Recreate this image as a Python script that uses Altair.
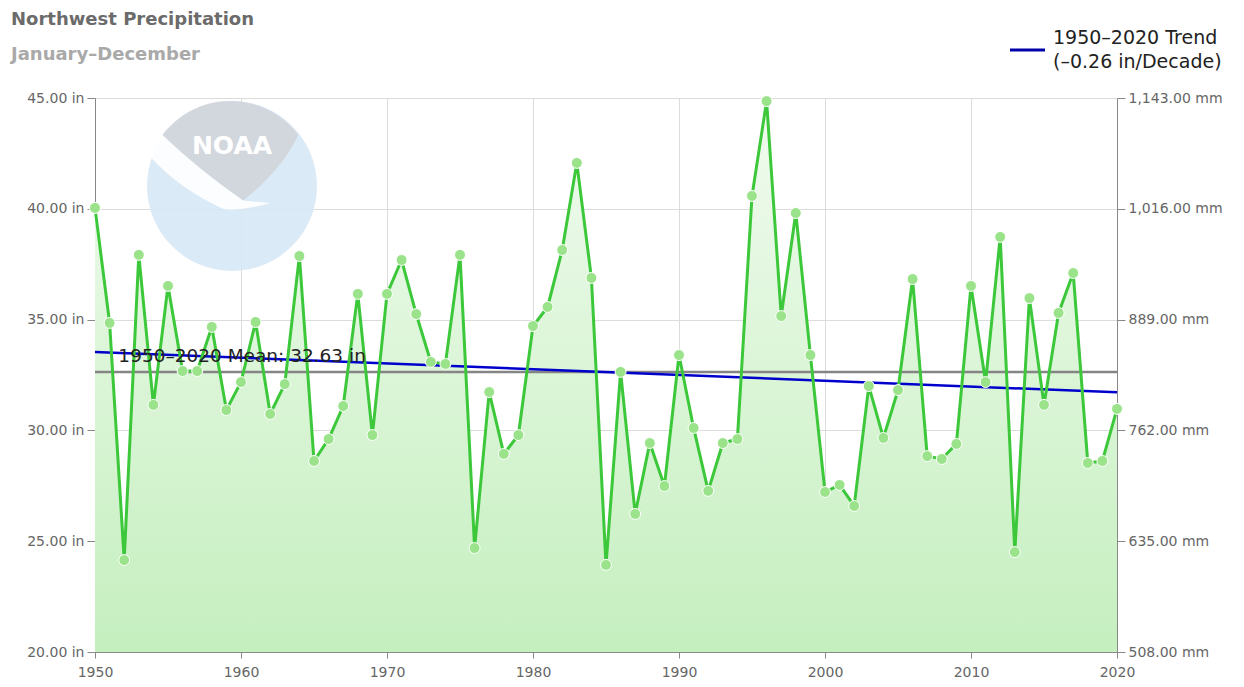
import altair as alt
import pandas as pd

years = list(range(1950, 2021))
precip = [40.04, 34.85, 24.15, 37.92, 31.15, 36.52, 32.68, 32.68, 34.67, 30.92,
          32.18, 34.89, 30.74, 32.09, 37.87, 28.62, 29.61, 31.10, 36.16, 29.79,
          36.16, 37.69, 35.25, 33.09, 33.00, 37.92, 24.69, 31.73, 28.94, 29.79,
          34.71, 35.57, 38.14, 42.07, 36.88, 23.93, 32.64, 26.23, 29.43, 27.49,
          33.40, 30.11, 27.27, 29.43, 29.61, 40.58, 44.86, 35.16, 39.81, 33.40,
          27.22, 27.54, 26.59, 32.00, 29.66, 31.82, 36.83, 28.84, 28.71, 29.39,
          36.52, 32.18, 38.73, 24.51, 35.97, 31.15, 35.30, 37.10, 28.53, 28.62,
          30.97]
mean_value = 32.63
mean_label = "1950–2020 Mean: 32.63 in"
trend_years = [1950, 2020]
trend_values = [33.54, 31.72]
legend_lines = ["1950–2020 Trend", "(–0.26 in/Decade)"]
title_text = "Northwest Precipitation"
subtitle_text = "January–December"
x_ticks = [1950, 1960, 1970, 1980, 1990, 2000, 2010, 2020]
y_ticks = [20, 25, 30, 35, 40, 45]

df = pd.DataFrame({"year": years, "precip": precip})
trend_df = pd.DataFrame({"year": trend_years, "value": trend_values})
mean_df = pd.DataFrame({"value": [mean_value], "label": [mean_label],
                        "year": [1951.6], "ly": [33.36]})
one = pd.DataFrame({"k": [0]})

W, H = 1022, 554
FONT = "DejaVu Sans"

xs = alt.Scale(domain=[1950, 2020], nice=False)
ys = alt.Scale(domain=[20, 45], nice=False, zero=False)

x_axis = alt.Axis(values=x_ticks, format="d", title=None, grid=True, gridColor="#dcdcdc",
                  tickSize=6, tickColor="#888", domainColor="#888", labelFontSize=14,
                  labelColor="#666", labelFont=FONT, labelPadding=7, labelFlush=False)
y_axis = alt.Axis(values=y_ticks, title=None, grid=True, gridColor="#dcdcdc",
                  labelExpr="format(datum.value, '.2f') + ' in'", tickSize=8,
                  tickColor="#888", domainColor="#888", labelFontSize=14,
                  labelColor="#666", labelFont=FONT, labelPadding=3, labelFlush=False)


def X(field):
    return alt.X(field, scale=xs, axis=x_axis)


def Y(field):
    return alt.Y(field, scale=ys, axis=y_axis)


# NOAA logo watermark (unit-circle paths scaled by size)
LOGO_SIZE = 170 ** 2
cap_path = ("M -0.82 -0.6 A 1 1 0 0 1 0.78 -0.6 Q 0.58 -0.18 0.13 0.17 "
            "Q -0.38 -0.18 -0.82 -0.6 Z")
swoosh_path = ("M -0.82 -0.6 Q -0.38 -0.18 0.13 0.17 L 0.45 0.2 "
               "Q 0.1 0.3 -0.1 0.27 Q -0.6 0.05 -0.96 -0.34 L -0.82 -0.6 Z")
logo_circle = alt.Chart(one).mark_point(shape="circle", filled=True, size=LOGO_SIZE,
                                        color="#d7e8f6", opacity=0.9).encode(
    x=alt.value(137), y=alt.value(88))
logo_cap = alt.Chart(one).mark_point(shape=cap_path, filled=True, size=LOGO_SIZE,
                                     color="#d2d6dc", opacity=0.95).encode(
    x=alt.value(137), y=alt.value(88))
logo_swoosh = alt.Chart(one).mark_point(shape=swoosh_path, filled=True, size=LOGO_SIZE,
                                        color="white", opacity=0.9).encode(
    x=alt.value(137), y=alt.value(88))
logo_text = alt.Chart(one).mark_text(text="NOAA", font=FONT, fontWeight="bold",
                                     fontSize=25, color="white").encode(
    x=alt.value(137), y=alt.value(48))

area = alt.Chart(df).mark_area(
    color=alt.Gradient(gradient="linear",
                       stops=[alt.GradientStop(color="#f1fbef", offset=0),
                              alt.GradientStop(color="#c5efbf", offset=1)],
                       x1=0, x2=0, y1=0, y2=1)
).encode(x=X("year:Q"), y=Y("precip:Q"), y2=alt.Y2Datum(20))

mean_rule = alt.Chart(mean_df).mark_rule(color="#858585", strokeWidth=2.5).encode(
    y=Y("value:Q"))

trend = alt.Chart(trend_df).mark_line(strokeWidth=2.5, color="#0000cc").encode(
    x=X("year:Q"), y=Y("value:Q"))

line = alt.Chart(df).mark_line(color="#3cc83a", strokeWidth=3).encode(
    x=X("year:Q"), y=Y("precip:Q"))

mean_text = alt.Chart(mean_df).mark_text(align="left", baseline="middle", fontSize=18.5,
                                         font=FONT, color="#222").encode(
    x=X("year:Q"), y=Y("ly:Q"), text="label:N")

# titles and trend key placed in the top margin
title_mark = alt.Chart(one).mark_text(text=title_text, align="left", baseline="middle",
                                      font=FONT, fontSize=18, fontWeight="bold",
                                      color="#6b6b6b").encode(
    x=alt.value(-84), y=alt.value(-78))
subtitle_mark = alt.Chart(one).mark_text(text=subtitle_text, align="left", baseline="middle",
                                         font=FONT, fontSize=18, fontWeight="bold",
                                         color="#a9a9a9").encode(
    x=alt.value(-84), y=alt.value(-43))
key_rule = alt.Chart(one).mark_rule(color="#0000aa", strokeWidth=3).encode(
    x=alt.value(915), x2=alt.value(950), y=alt.value(-48))
key_text1 = alt.Chart(one).mark_text(text=legend_lines[0], align="left", baseline="middle",
                                     font=FONT, fontSize=19, color="#222").encode(
    x=alt.value(958), y=alt.value(-60))
key_text2 = alt.Chart(one).mark_text(text=legend_lines[1], align="left", baseline="middle",
                                     font=FONT, fontSize=19, color="#222").encode(
    x=alt.value(958), y=alt.value(-36))

left = alt.layer(logo_circle, logo_cap, logo_swoosh, logo_text, area, mean_rule, trend,
                 line, mean_text, title_mark, subtitle_mark, key_rule, key_text1, key_text2)

points = alt.Chart(df).mark_point(filled=True, shape="circle", size=120, fill="#9be38b",
                                  stroke="white", strokeWidth=1, opacity=1).encode(
    x=X("year:Q"),
    y=alt.Y("precip:Q", scale=alt.Scale(domain=[20, 45], nice=False, zero=False),
            axis=alt.Axis(orient="right", values=y_ticks, title=None, grid=False,
                          labelExpr="format(datum.value * 25.4, ',.2f') + ' mm'",
                          tickSize=8, tickColor="#888", domainColor="#888",
                          labelFontSize=14, labelColor="#666", labelFont=FONT,
                          labelPadding=3, labelFlush=False)),
)

chart = alt.layer(left, points).resolve_scale(y="independent").properties(
    width=W, height=H,
    autosize=alt.AutoSizeParams(type="none"),
    padding={"left": 87, "top": 90, "right": 110, "bottom": 27},
).configure_view(stroke=None).configure(background="white")

chart.save("out.html", embed_options={"renderer": "svg", "actions": False})
